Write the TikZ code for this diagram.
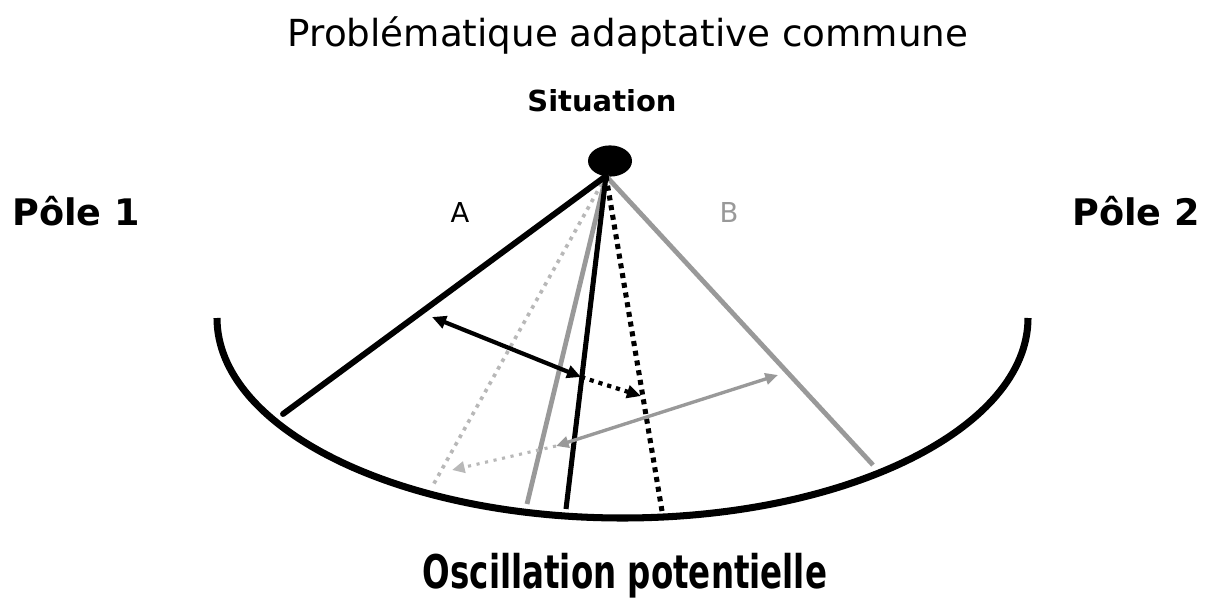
\documentclass[tikz,border=0pt]{standalone}
\usepackage{fontspec}
\setmainfont{DejaVu Sans}
\usetikzlibrary{arrows.meta,shapes.geometric}
\definecolor{mgray}{gray}{0.60}
\definecolor{lgray}{gray}{0.72}
\begin{document}
\begin{tikzpicture}[x=0.025cm,y=-0.025cm,
  lbl/.style={inner sep=0pt,anchor=base},
  titletext/.style={lbl,font=\fontsize{26.5pt}{30pt}\selectfont},
  boldtext/.style={lbl,font=\bfseries\fontsize{26pt}{30pt}\selectfont},
  sittext/.style={lbl,font=\bfseries\fontsize{20.6pt}{24pt}\selectfont},
  lettertext/.style={lbl,font=\fontsize{19.5pt}{22pt}\selectfont},
  bottomtext/.style={lbl,font=\bfseries\fontsize{33pt}{36pt}\selectfont},
  blk/.style={draw=black,line width=4.2pt},
  blkthin/.style={draw=black,line width=3.6pt},
  blkdot/.style={draw=black,line width=3.6pt,dash pattern=on 3.6pt off 3.4pt},
  gry/.style={draw=mgray,line width=3.4pt},
  grydot/.style={draw=lgray,line width=2.6pt,dash pattern=on 2.6pt off 3.6pt},
  barrow/.style={draw=black,line width=3pt},
  garrow/.style={draw=mgray,line width=2.4pt},
  btip/.tip={Triangle[length=10pt,width=9pt]},
  gtip/.tip={Triangle[length=9pt,width=8pt]},
  bowl/.style={draw=black,line width=5pt}
]
\useasboundingbox (0,0) rectangle (1208,603);

% texts
\node[titletext] (title) at (628,47) {Problématique adaptative commune};
\node[sittext] (situation) at (602,112) {Situation};
\node[boldtext,anchor=base west] (pole1) at (12,226) {Pôle 1};
\node[boldtext,anchor=base east] (pole2) at (1200,226) {Pôle 2};
\node[lettertext] (A) at (460,223) {A};
\node[lettertext,text=mgray] (B) at (729,223) {B};
\node[bottomtext] (osc) at (625,588) {\scalebox{0.7}[1]{Oscillation potentielle}};

% situation dot
\node[ellipse,fill=black,inner sep=0pt,minimum width=1.1cm,minimum height=0.78cm] (sit) at (610,161) {};
\coordinate (apex) at (606,176);

% the bowl
\coordinate (bl) at (217,318);
\coordinate (bb) at (622.5,518);
\coordinate (br) at (1028,318);
\draw[bowl] (bl) .. controls (217,428.5) and (398.5,518) .. (bb)
                 .. controls (846.5,518) and (1028,428.5) .. (br);

% end points of the rays
\coordinate (p1) at (283,414);
\coordinate (p2) at (432,487);
\coordinate (p3) at (527,504);
\coordinate (p4) at (566,509);
\coordinate (p5) at (662,511);
\coordinate (p6) at (873,465);

\draw[grydot] (apex) -- (p2);
\draw[gry] (apex) -- (p3);
\draw[gry] (apex) -- (p6);
\draw[blk,line cap=round] (apex) -- (p1);
\draw[blkthin] (apex) -- (p4);
\draw[blkdot] (apex) -- (p5);

% oscillation arrows
\coordinate (a1) at (432,317);
\coordinate (a2) at (581,377);
\coordinate (a3) at (641,396);
\draw[barrow,{btip}-{btip}] (a2) -- (a1);
\draw[barrow,dash pattern=on 3pt off 3.5pt,-{btip}] (a2) -- (a3);

\coordinate (g1) at (778,375);
\coordinate (g2) at (556,446);
\coordinate (g3) at (452,470);
\draw[garrow,{gtip}-{gtip}] (g2) -- (g1);
\draw[draw=lgray,line width=2.2pt,dash pattern=on 2.2pt off 4pt,-{gtip}] (g2) -- (g3);
\end{tikzpicture}
\end{document}
